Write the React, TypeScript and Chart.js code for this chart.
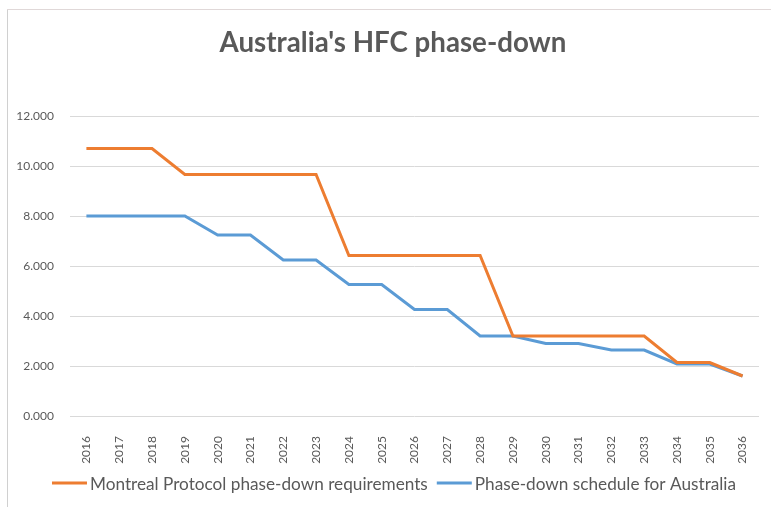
import React, { useEffect, useRef } from "react";
import { Chart, registerables } from "chart.js";

Chart.register(...registerables);

const years = ["2016","2017","2018","2019","2020","2021","2022","2023","2024","2025","2026","2027","2028","2029","2030","2031","2032","2033","2034","2035","2036"];
const montreal = [10.7,10.7,10.7,9.66,9.66,9.66,9.66,9.66,6.42,6.42,6.42,6.42,6.42,3.2,3.2,3.2,3.2,3.2,2.14,2.14,1.6];
const australia = [8.0,8.0,8.0,8.0,7.24,7.24,6.24,6.24,5.26,5.26,4.26,4.26,3.2,3.2,2.9,2.9,2.64,2.64,2.08,2.08,1.6];
const seriesNames = ["Montreal Protocol phase-down requirements", "Phase-down schedule for Australia"];
const seriesColors = ["#ED7D31", "#5B9BD5"];
const titleText = "Australia's HFC phase-down";

const FONT = "Lato, 'Open Sans', sans-serif";
const TEXT = "#595959";

const decorPlugin = {
  id: "decor",
  afterDraw(chart: any) {
    const ctx = chart.ctx as CanvasRenderingContext2D;
    ctx.save();
    // title
    ctx.fillStyle = TEXT;
    ctx.font = `bold 27.7px ${FONT}`;
    ctx.textAlign = "center";
    ctx.textBaseline = "middle";
    ctx.fillText(chart.options.plugins.title.text, 393, 43);
    // legend
    ctx.font = `17.2px ${FONT}`;
    ctx.textAlign = "left";
    const sample = 35;
    const gapText = 3;
    const gapItem = 9;
    const items = chart.data.datasets.map((d: any) => ({
      label: d.label,
      color: d.borderColor,
      w: sample + gapText + ctx.measureText(d.label).width,
    }));
    const total = items.reduce((a: number, it: any) => a + it.w, 0) + gapItem * (items.length - 1);
    let x = 394 - total / 2;
    const y = 483;
    for (const it of items) {
      ctx.fillStyle = it.color;
      ctx.fillRect(x, y - 1.5, sample, 3);
      ctx.fillStyle = TEXT;
      ctx.fillText(it.label, x + sample + gapText, y + 1);
      x += it.w + gapItem;
    }
    ctx.restore();
  },
};

export default function App() {
  const ref = useRef<HTMLCanvasElement | null>(null);
  useEffect(() => {
    document.body.style.margin = "0";
    const ctx = ref.current!;
    const chart = new Chart(ctx, {
      type: "line",
      data: {
        labels: years,
        datasets: [
          { label: seriesNames[0], data: montreal, borderColor: seriesColors[0], backgroundColor: seriesColors[0], borderWidth: 3, pointRadius: 0, tension: 0 },
          { label: seriesNames[1], data: australia, borderColor: seriesColors[1], backgroundColor: seriesColors[1], borderWidth: 3, pointRadius: 0, tension: 0 },
        ],
      },
      plugins: [decorPlugin],
      options: {
        animation: false,
        responsive: false,
        maintainAspectRatio: false,
        layout: { padding: { left: 0, right: 12, top: 116, bottom: 41 } },
        plugins: {
          title: { display: false, text: titleText },
          legend: { display: false },
          tooltip: { enabled: false },
        },
        scales: {
          x: {
            offset: true,
            grid: { display: false },
            border: { display: false },
            ticks: { color: TEXT, font: { family: FONT, size: 12 }, minRotation: 90, maxRotation: 90, padding: 12 },
            afterFit: (s: any) => { s.height = 50; },
          },
          y: {
            min: 0,
            max: 12,
            grid: { color: "#d9d9d9", lineWidth: 1, drawTicks: false },
            border: { display: false },
            ticks: {
              stepSize: 2,
              color: TEXT,
              font: { family: FONT, size: 12 },
              padding: 16,
              callback: (v: any) => Number(v).toFixed(3),
            },
            afterFit: (s: any) => { s.width = 70; },
          },
        },
      },
    });
    return () => chart.destroy();
  }, []);
  return (
    <div style={{ width: 771, height: 507, position: "relative", background: "#fff" }}>
      <canvas ref={ref} width={771} height={507} style={{ display: "block", width: 771, height: 507 }} />
      <div style={{ position: "absolute", left: 7, top: 9, width: 1, height: 498, background: "#d0d0d0" }} />
      <div style={{ position: "absolute", left: 7, top: 9, width: 764, height: 1, background: "#e0d8d8" }} />
    </div>
  );
}
